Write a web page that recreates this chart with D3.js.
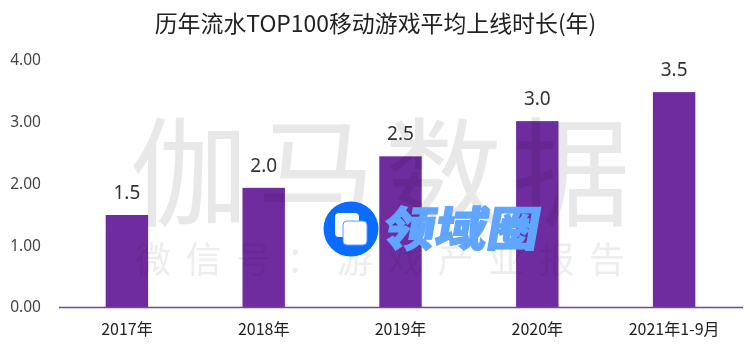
<!DOCTYPE html>
<html lang="zh">
<head>
<meta charset="utf-8">
<style>
  html, body { margin: 0; padding: 0; background: #fff; }
  svg { display: block; }
  text { font-family: "Noto Sans CJK SC", "Noto Sans", sans-serif; }
</style>
</head>
<body>
<svg id="chart" width="750" height="359"></svg>
<script src="https://d3js.org/d3.v7.min.js"></script>
<script>
  const categories = ['2017年', '2018年', '2019年', '2020年', '2021年1-9月']
  const values = [1.49, 1.93, 2.44, 3.01, 3.48]
  const barLabels = ['1.5', '2.0', '2.5', '3.0', '3.5']
  const yTicks = [0, 1, 2, 3, 4]

  const svg = d3.select('#chart')

  // 标题
  svg.append('text')
     .attr('x', 375.5)
     .attr('y', 32)
     .attr('text-anchor', 'middle')
     .attr('font-size', 22.9)
     .attr('fill', '#222')
     .text('历年流水TOP100移动游戏平均上线时长(年)')

  const x = d3.scaleBand()
              .domain(categories)
              .range([58.5, 742.5])
              .paddingInner(0.69)
              .paddingOuter(0.345)

  const y = d3.scaleLinear()
              .domain([0, 4])
              .range([307, 60])

  // y 轴
  const yAxis = d3.axisLeft(y)
                  .tickValues(yTicks)
                  .tickFormat(d3.format('.2f'))
                  .tickSize(0)
                  .tickPadding(0)

  const gy = svg.append('g')
                .attr('transform', 'translate(41,0)')
                .call(yAxis)
  gy.select('.domain').remove()
  gy.selectAll('text')
    .attr('font-size', 15.5)
    .attr('fill', '#444')
    .style('font-family', '"Noto Sans", sans-serif')

  // 长条
  svg.append('g')
     .selectAll('rect')
     .data(values)
     .join('rect')
     .attr('x', (d, i) => x(categories[i]))
     .attr('y', d => y(d))
     .attr('width', x.bandwidth())
     .attr('height', d => y(0) - y(d))
     .attr('fill', '#6f2c9f')

  // x 轴
  const xAxis = d3.axisBottom(x)
                  .tickSize(0)
                  .tickPadding(17)

  const gx = svg.append('g')
                .attr('transform', 'translate(0,307)')
                .call(xAxis)
  gx.select('.domain')
    .attr('stroke', '#6f4a9c')
    .attr('stroke-width', 1.3)
  gx.selectAll('text')
    .attr('font-size', 16)
    .attr('fill', '#222')
    .style('font-family', '"Noto Sans CJK SC", sans-serif')

  // 数值标签
  svg.append('g')
     .selectAll('text')
     .data(barLabels)
     .join('text')
     .attr('x', (d, i) => x(categories[i]) + x.bandwidth() / 2)
     .attr('y', (d, i) => y(values[i]) - 16)
     .attr('text-anchor', 'middle')
     .attr('font-size', 19)
     .attr('fill', '#333')
     .style('font-family', '"Noto Sans", sans-serif')
     .text(d => d)

  // 水印
  const mark = svg.append('g').style('mix-blend-mode', 'multiply')
  mark.append('text')
      .attr('x', 380)
      .attr('y', 217)
      .attr('text-anchor', 'middle')
      .attr('font-size', 118)
      .attr('textLength', 500)
      .attr('fill', '#e8e8e8')
      .text('伽马数据')
  mark.append('text')
      .attr('x', 380)
      .attr('y', 273)
      .attr('text-anchor', 'middle')
      .attr('font-size', 36)
      .attr('textLength', 490)
      .attr('fill', '#ededed')
      .text('微信号：游戏产业报告')

  // 角标
  const logo = svg.append('g')
  logo.append('circle')
      .attr('cx', 351)
      .attr('cy', 229)
      .attr('r', 27.5)
      .attr('fill', '#0a6cff')
  logo.append('rect')
      .attr('x', 335).attr('y', 213)
      .attr('width', 24).attr('height', 24).attr('rx', 4)
      .attr('fill', '#fff')
  logo.append('rect')
      .attr('x', 343).attr('y', 221)
      .attr('width', 24).attr('height', 24).attr('rx', 4)
      .attr('fill', '#fff')
      .attr('stroke', '#5a9cff')
      .attr('stroke-width', 1)
  logo.append('text')
      .attr('transform', 'translate(381,246) skewX(-10)')
      .attr('font-size', 47)
      .attr('font-weight', 900)
      .attr('textLength', 156)
      .attr('lengthAdjust', 'spacingAndGlyphs')
      .attr('fill', '#60a5ff')
      .attr('stroke', '#60a5ff')
      .attr('stroke-width', 1.2)
      .text('领域圈')
</script>
</body>
</html>
